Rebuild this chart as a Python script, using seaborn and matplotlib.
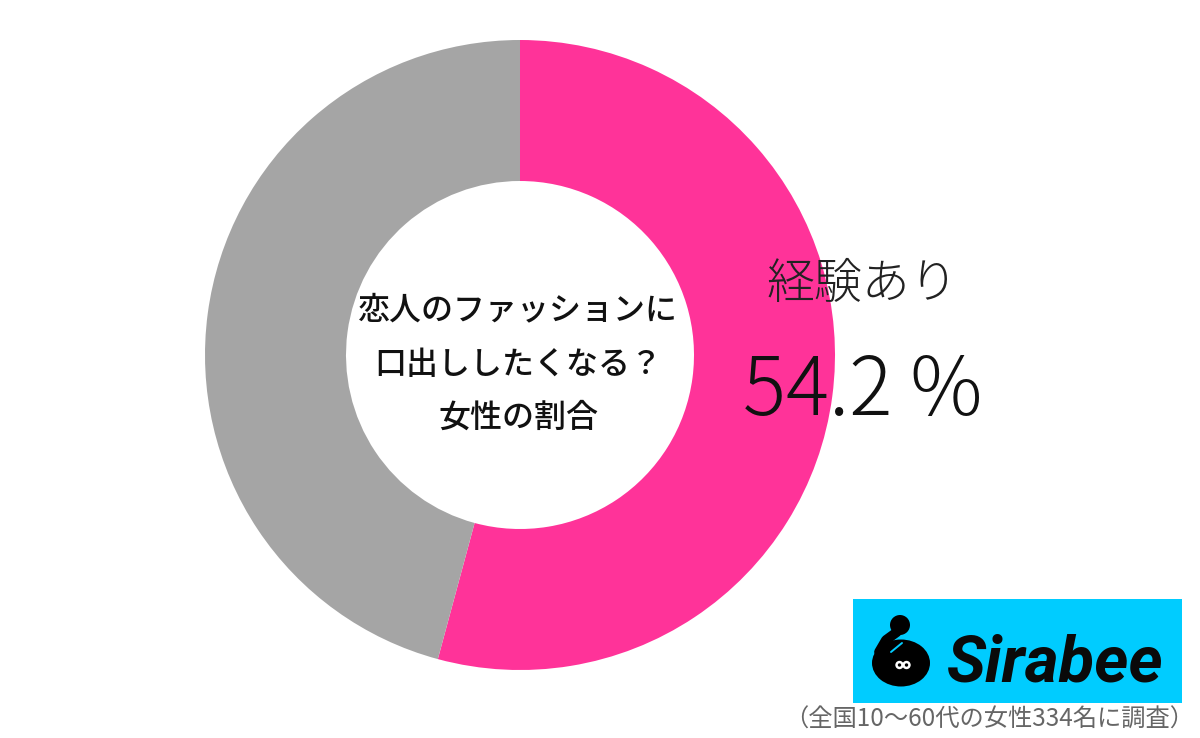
import matplotlib
matplotlib.use("Agg")
import matplotlib.pyplot as plt
import matplotlib.patches as mpatches
import seaborn as sns

# Data
categories = ["経験あり", "経験なし"]
shares = [54.2, 45.8]
colors = ["#FF3399", "#A5A5A5"]
center_lines = ["恋人のファッションに", "口出ししたくなる？", "女性の割合"]
value_label = "54.2 %"
note = "（全国10～60代の女性334名に調査）"

sns.set_theme(style="white")
plt.rcParams["font.family"] = ["Noto Sans CJK JP", "DejaVu Sans"]

W, H = 1200, 738
fig = plt.figure(figsize=(W / 100, H / 100), dpi=100)
ax = fig.add_axes([0, 0, 1, 1])


def yy(y):
    # pixel rows from the top -> axes y
    return H - y


# =========================
# Donut
# =========================
ax.pie(
    shares,
    colors=colors,
    startangle=90,
    counterclock=False,
    center=(520, yy(355)),
    radius=315,
    wedgeprops=dict(width=141, linewidth=0),
)
ax.set_xlim(0, W)
ax.set_ylim(0, H)
ax.set_aspect("equal")
ax.axis("off")

# =========================
# Text
# =========================
for line, y in zip(center_lines, [310, 365, 418]):
    ax.text(518, yy(y), line, fontsize=23, fontweight="medium", color="#111111",
            ha="center", va="center")

ax.text(862, yy(284), categories[0], fontsize=34.5, fontweight="light", color="#222222",
        ha="center", va="center")
ax.text(863, yy(393), value_label, fontsize=58, fontweight="light", color="#111111",
        ha="center", va="center")

# =========================
# Logo
# =========================
ax.add_patch(mpatches.Rectangle((853, yy(703)), 329, 104, color="#00CCFF", lw=0))
ax.add_patch(mpatches.Ellipse((901, yy(663)), 58, 47, color="black", lw=0))
ax.add_patch(mpatches.Circle((900, yy(625)), 10, color="black", lw=0))
ax.plot([897, 886, 879], [yy(632), yy(640), yy(652)], color="black", lw=7,
        solid_capstyle="round")
ax.plot([891, 902], [yy(652), yy(643)], color="#00CCFF", lw=1.4, solid_capstyle="round")
for ex in (899.5, 906.5):
    ax.add_patch(mpatches.Circle((ex, yy(665)), 4.2, color="white", lw=0))
for ex in (899.5, 906.5):
    ax.add_patch(mpatches.Circle((ex, yy(665)), 1.7, color="black", lw=0))
ax.text(1055, yy(664), "Sirabee", fontsize=47, fontweight="bold", fontstyle="italic",
        color="#0A0A0A", ha="center", va="center", family="Roboto")

ax.text(989, yy(720), note, fontsize=17.5, color="#666666", ha="center", va="center")

fig.savefig("out.png", dpi=100)
